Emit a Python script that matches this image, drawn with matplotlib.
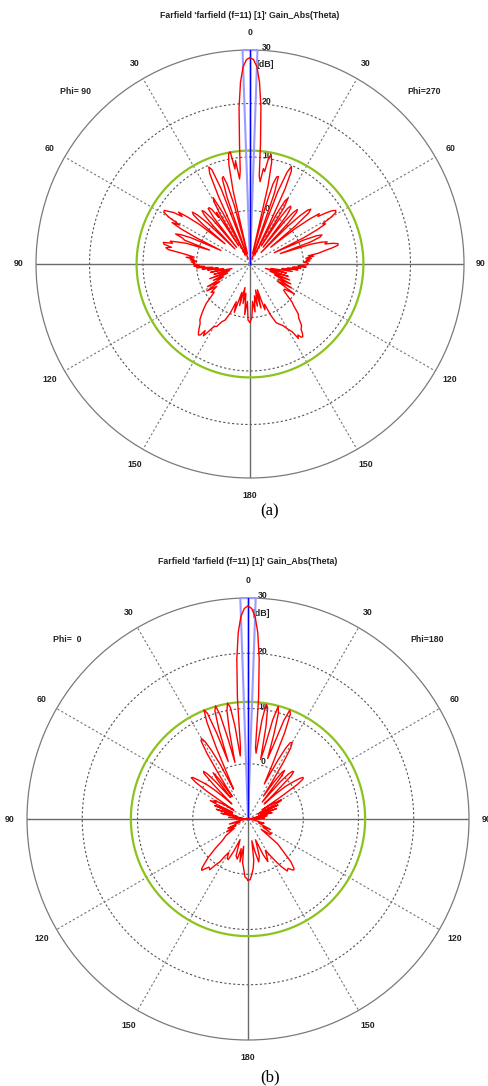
import numpy as np
import matplotlib
matplotlib.use('Agg')
import matplotlib.pyplot as plt
from matplotlib.transforms import offset_copy

# ---- pattern (a), Phi=90 / Phi=270 cut: theta in deg (right side +, left side -), gain in dBi
ang_a_r = [0, 1, 2, 3, 4, 5, 6, 7, 8, 9, 10, 11, 12, 13, 14, 15, 16, 17, 18, 19, 20,
           21, 22, 23, 24, 25, 26, 27, 28, 29, 30, 31, 32, 33, 34, 35, 36, 37, 38, 39, 40,
           41, 42, 43, 44, 45, 46, 47, 48, 49, 50, 51, 52, 53, 54, 55, 56, 57, 58, 59, 60,
           61, 62, 63, 64, 65, 66, 67, 68, 69, 70, 71, 72, 73, 74, 75, 76, 77, 78, 79, 80,
           81, 82, 83, 84, 85, 86, 87, 88, 89, 90, 91, 92, 93, 94, 95, 96, 97, 98,
           100, 102, 104, 106, 108, 110, 112, 114, 116, 118, 120, 122, 124, 126, 128, 130,
           132, 134, 136, 138, 140, 142, 143, 144, 145, 146, 147, 148, 150, 152, 154, 156,
           158, 160, 162, 164, 166, 168, 170, 172, 174, 176, 178, 180]
gain_a_r = [28.6, 28.2, 26.9, 24.0, 19.3, 12.5, 6.5, 5.5, 8.0, 7.5, 10.2, 10.8, 9.5, 5.0, -8, 1, 5.5, 7.0, 7.2, 4.0, -9,
            4.5, 8.5, 9.8, 9.0, 5.5, -2, -8, 0.5, 3.5, 4.2, 2.5, -6, 0, 2.5, 3.2, 3.0, 1.5, -6, 0, 2.5,
            3.5, 3.0, 0.5, -7, 0, 3.0, 4.8, 5.3, 4.5, 1.0, -5, 1.0, 4.0, 6.0, 5.5, 7.0, 8.3, 8.9, 8.7, 7.5,
            5.5, 6.0, 4.0, 1.0, -5, 1.0, 3.5, 4.5, 4.0, 2.0, -4, 2.0, 4.0, 5.0, 4.5, 6.0, 6.9, 6.8, 5.5, 4.0,
            3.0, 1.0, 2.0, 0.5, 1.5, 0.5, 1.2, 0.0, 0.8, 0.9, 0.5, -1.0, 0.5, -2.0, -0.5, -3.0, -1.0, -4.0,
            -2.0, -6.0, -3.0, -7.0, -2.5, -6.0, -2.0, -5.0, -1.5, -4.0, -1.0, -4.0, 0.0, -2.0, -2.0, -1.0,
            0.5, 1.5, 3.0, 3.6, 5.0, 5.5, 6.3, 6.8, 6.7, 6.0, 6.6, 5.0, 4.0, 3.0, 2.5, 2.0,
            0.3, -2.0, -1.0, -5.0, -1.5, -5.0, -2.0, -4.0, -1.0, -3.0, 0.0, 0.9]
ang_a_l = [-1, -2, -3, -4, -5, -6, -7, -8, -9, -10, -11, -12, -13, -14, -15, -16, -17, -18, -19, -20,
           -21, -22, -23, -24, -25, -26, -27, -28, -29, -30, -31, -32, -33, -34, -35, -36, -37, -38, -39, -40,
           -41, -42, -43, -44, -45, -46, -47, -48, -49, -50, -51, -52, -53, -54, -55, -56, -57, -58, -59, -60,
           -61, -62, -63, -64, -65, -66, -67, -68, -69, -70, -71, -72, -73, -74, -75, -76, -77, -78, -79, -80,
           -81, -82, -83, -84, -85, -86, -87, -88, -89, -90, -91, -92, -93, -94, -95, -96, -97, -98,
           -100, -102, -104, -106, -108, -110, -112, -114, -116, -118, -120, -122, -124, -126, -128, -130,
           -132, -134, -136, -138, -140, -142, -143, -144, -145, -146, -147, -148, -150, -152, -154, -156,
           -158, -160, -162, -164, -166, -168, -170, -172, -174, -176, -178, -180]
gain_a_l = [28.2, 26.9, 24.0, 19.3, 12.5, 7.5, 6.0, 9.5, 8.0, 11.3, 11.0, 9.0, 4.0, -8, 1.5, 5.5, 7.1, 6.8, 3.0, -9,
            5.0, 9.0, 9.7, 8.5, 4.0, -3, -8, 1.0, 4.2, 3.5, 1.0, -6, 1.5, 0.5, 2.5, 3.0, 3.0, 1.0, -6, 1.0,
            3.0, 3.4, 2.5, 0, -6, 1.0, 3.5, 4.5, 4.0, 1.5, -4, 2.0, 4.5, 6.5, 5.5, 7.2, 8.0, 8.9, 8.8, 7.5,
            5.0, 6.5, 4.5, 1.0, -4, 2.0, 4.0, 5.0, 3.5, 3.0, -2, 2.5, 4.0, 5.5, 5.0, 6.7, 6.5, 5.0, 6.0, 5.5,
            3.0, 1.5, 0.5, 2.0, 0.5, 1.2, 0.0, 1.0, 0.3, 0.6, -0.5, 0.5, -1.5, 0.0, -3.0, -1.0, -4.0, -2.0,
            -5.0, -2.5, -6.5, -3.0, -6.0, -2.0, -5.5, -2.5, -4.5, -1.0, -3.5, -0.5, -2.5, -1.0, -1.5, -0.5,
            1.0, 2.0, 3.0, 4.0, 4.5, 5.5, 6.0, 6.4, 6.2, 5.0, 6.0, 5.2, 3.5, 3.2, 2.0, 1.5,
            0.0, -2.5, -0.5, -4.5, -2.0, -5.5, -2.5, -4.5, -0.5, -3.0, 0.5, 0.9]

# ---- pattern (b), Phi=0 / Phi=180 cut
ang_b_r = [0, 1, 2, 3, 4, 5, 6, 7, 8, 9, 10, 11, 12, 13, 14, 15, 16, 17, 18, 19, 20,
           21, 22, 23, 24, 25, 26, 27, 28, 29, 30, 31, 32, 33, 34, 35, 36, 37, 38, 39, 40,
           41, 42, 43, 44, 45, 46, 47, 48, 49, 50, 51, 52, 53, 54, 55, 56, 57, 58, 60,
           61, 62, 63, 65, 67, 70, 72, 75, 78, 80, 83, 86, 89, 92, 95, 100, 105, 110, 115, 118,
           122, 125, 128, 130, 133, 135, 137, 138, 139, 141, 143, 145, 147, 149, 151, 153, 155, 157,
           160, 163, 166, 168, 170, 172, 174, 176, 178, 180]
gain_b_r = [28.6, 28.1, 26.7, 23.8, 19.0, 12.0, 3.0, 2.0, 8.0, 11.0, 10.5, 7.0, 1.0, 3.0, 8.5, 11.1, 10.0, 6.0, 1.5, 4.0, 9.0,
            11.1, 10.5, 7.0, 1.0, -3.0, -1.0, 2.0, 4.5, 5.8, 6.0, 5.0, 2.0, -2.0, -5.0, -2.0, 0.5, 1.0, 0.0, -4.0, -6.0,
            -1.0, 1.0, 1.8, 1.9, 1.0, -3.0, -6.0, -3.0, -1.0, 0.0, 1.0, 2.0, 2.5, 2.3, 1.0, -3.0, -7.0, -5.0, -3.0,
            -3.2, -5.0, -8.0, -4.0, -7.5, -4.5, -8.0, -5.5, -9.0, -6.5, -10, -7.0, -10, -8.0, -10, -9.0, -7.0, -8.0, -5.5, -7.0,
            -5.0, -5.1, -7.0, -3.0, -1.0, 1.0, 2.2, 2.4, 2.2, 1.5, 1.8, 0.5, -1.0, -2.5, -3.5, -2.5, -1.5, -3.0,
            -6.0, -3.0, -2.0, -4.0, -6.0, -2.5, -1.0, 0.0, 1.0, 1.1]
ang_b_l = [-1, -2, -3, -4, -5, -6, -7, -8, -9, -10, -11, -12, -13, -14, -15, -16, -17, -18, -19, -20,
           -21, -22, -23, -24, -25, -26, -27, -28, -29, -30, -31, -32, -33, -34, -35, -36, -37, -38, -39, -40,
           -41, -42, -43, -44, -45, -46, -47, -48, -49, -50, -51, -52, -53, -54, -55, -56, -57, -58, -59,
           -61, -62, -64, -65, -66, -68, -70, -71, -73, -76, -78, -82, -85, -88, -91, -95, -100, -105, -110,
           -115, -118, -121, -124, -127, -130, -132, -134, -136, -137, -138, -139, -141, -143, -145, -146.7,
           -148, -150, -152, -154, -156, -159, -162, -165, -167, -169.4, -171, -173, -175, -177, -179, -180]
gain_b_l = [28.1, 26.7, 23.8, 19.0, 12.0, 3.0, 1.5, 7.0, 10.5, 11.3, 10.0, 6.0, 0.5, 5.0, 9.5, 11.3, 10.5, 7.0, 1.0, 6.5,
            10.5, 11.3, 9.0, 4.0, -2.0, -4.0, 1.0, 4.0, 6.0, 6.8, 6.5, 4.0, 0.0, -3.0, -5.0, -1.0, 0.5, -1.0, -5.0, -4.0,
            -1.0, 1.0, 1.8, 1.5, -1.0, -4.0, -6.0, -4.0, -2.0, -0.5, 0.5, 1.5, 2.5, 2.7, 1.5, -1.0, -5.0, -7.0, -5.0,
            -3.0, -3.5, -2.4, -4.0, -7.0, -3.5, -6.5, -7.0, -4.0, -8.0, -5.0, -9.0, -6.5, -10, -8.0, -10, -8.5, -6.5, -8.5,
            -6.0, -7.5, -5.5, -7.0, -5.0, -4.0, -2.0, 0.0, 1.5, 2.3, 2.5, 2.0, 1.2, 1.5, 0.0, -0.7,
            -2.0, -3.0, -2.0, -1.8, -3.5, -6.0, -3.0, -2.5, -4.5, -2.1, -5.0, -2.0, -1.0, 0.5, 0.8, 1.1]

sll = 11.2        # side lobe level circle (green)
bw_half = 2.0     # half of the 3 dB beamwidth, deg
ring_db = [0, 10, 20]
rmin, rmax = -10, 30
ang_ticks = [0, 30, 60, 90, 120, 150, 180, -150, -120, -90, -60, -30]
ang_labels = ['0', '30', '60', '90', '120', '150', '180', '150', '120', '90', '60', '30']
title = "Farfield 'farfield (f=11) [1]' Gain_Abs(Theta)"

W, H = 488, 1086
fig = plt.figure(figsize=(W / 100, H / 100), dpi=100)
sans = ['Liberation Sans', 'DejaVu Sans']
fs = 6.3


def panel(cx, cy, R, ang_l, gain_l, ang_r, gain_r, phi_l, phi_r, tag, ytitle, ytag, xlab):
    ax = fig.add_axes([(cx - R) / W, (H - cy - R) / H, 2 * R / W, 2 * R / H], projection='polar')
    ax.set_theta_zero_location('N')
    ax.set_theta_direction(-1)
    ax.set_rlim(rmin, rmax)
    ax.grid(False)
    ax.set_xticks([])
    ax.set_yticks([])
    ax.spines['polar'].set_color('#7a7a7a')
    ax.spines['polar'].set_linewidth(0.9)

    th = np.linspace(0, 2 * np.pi, 400)
    for d in ring_db:
        ax.plot(th, np.full_like(th, d), color='#555555', lw=0.8, ls=(0, (2, 2)), zorder=1)
    for a in range(0, 360, 30):
        if a % 90 == 0:
            ax.plot([np.radians(a)] * 2, [rmin, rmax], color='#6a6a6a', lw=1.0, zorder=1)
        else:
            ax.plot([np.radians(a)] * 2, [rmin, rmax], color='#777777', lw=0.8, ls=(0, (2, 2)), zorder=1)

    ax.plot(th, np.full_like(th, sll), color='#8cc21e', lw=1.6, zorder=2)

    b = np.radians(bw_half)
    ax.plot([-b, -b, b, b], [rmin, rmax, rmax, rmin], color='#9a9aff', lw=1.5, zorder=3, clip_on=False)
    ax.plot([0, 0], [rmin, rmax], color='#0000ff', lw=1.0, zorder=3)

    ang = list(reversed(ang_l)) + ang_r
    gain = list(reversed(gain_l)) + gain_r
    ax.plot(np.radians(ang), np.clip(gain, rmin, rmax), color='#ff0000', lw=1.0, zorder=4)

    for a, lab in zip(ang_ticks, ang_labels):
        ax.text(np.radians(a), 33.2, lab, ha='center', va='center', fontsize=fs,
                fontweight='bold', family=sans, color='#222222')
    tr = offset_copy(ax.transData, fig=fig, x=xlab, y=2, units='dots')
    for d in ring_db + [30]:
        ax.text(0, d, str(d), transform=tr, ha='center', va='center', fontsize=fs,
                fontweight='bold', family=sans, color='#222222', zorder=0)
    ax.text(0, 27.2, '[dB]', transform=offset_copy(ax.transData, fig=fig, x=xlab - 2, y=0, units='dots'),
            ha='center', va='center', fontsize=fs, fontweight='bold', family=sans, color='#222222', zorder=0)

    fig.text(cx / W, 1 - ytitle / H, title, ha='center', va='center', fontsize=fs,
             fontweight='bold', family=sans, color='#222222')
    fig.text(phi_l[1] / W, 1 - phi_l[2] / H, phi_l[0], ha='center', va='center', fontsize=fs,
             fontweight='bold', family=sans, color='#222222')
    fig.text(phi_r[1] / W, 1 - phi_r[2] / H, phi_r[0], ha='center', va='center', fontsize=fs,
             fontweight='bold', family=sans, color='#222222')
    fig.text(270 / W, 1 - ytag / H, tag, ha='center', va='center', fontsize=12,
             family=['Liberation Serif', 'DejaVu Serif'])
    return ax


panel(250, 264, 214, ang_a_l, gain_a_l, ang_a_r, gain_a_r,
      ('Phi= 90', 75, 91), ('Phi=270', 424, 91), '(a)', 15, 511, 17)
panel(248, 819, 221, ang_b_l, gain_b_l, ang_b_r, gain_b_r,
      ('Phi=  0', 67, 639), ('Phi=180', 427, 639), '(b)', 562, 1077, 15)

fig.savefig('out.png', dpi=100)
